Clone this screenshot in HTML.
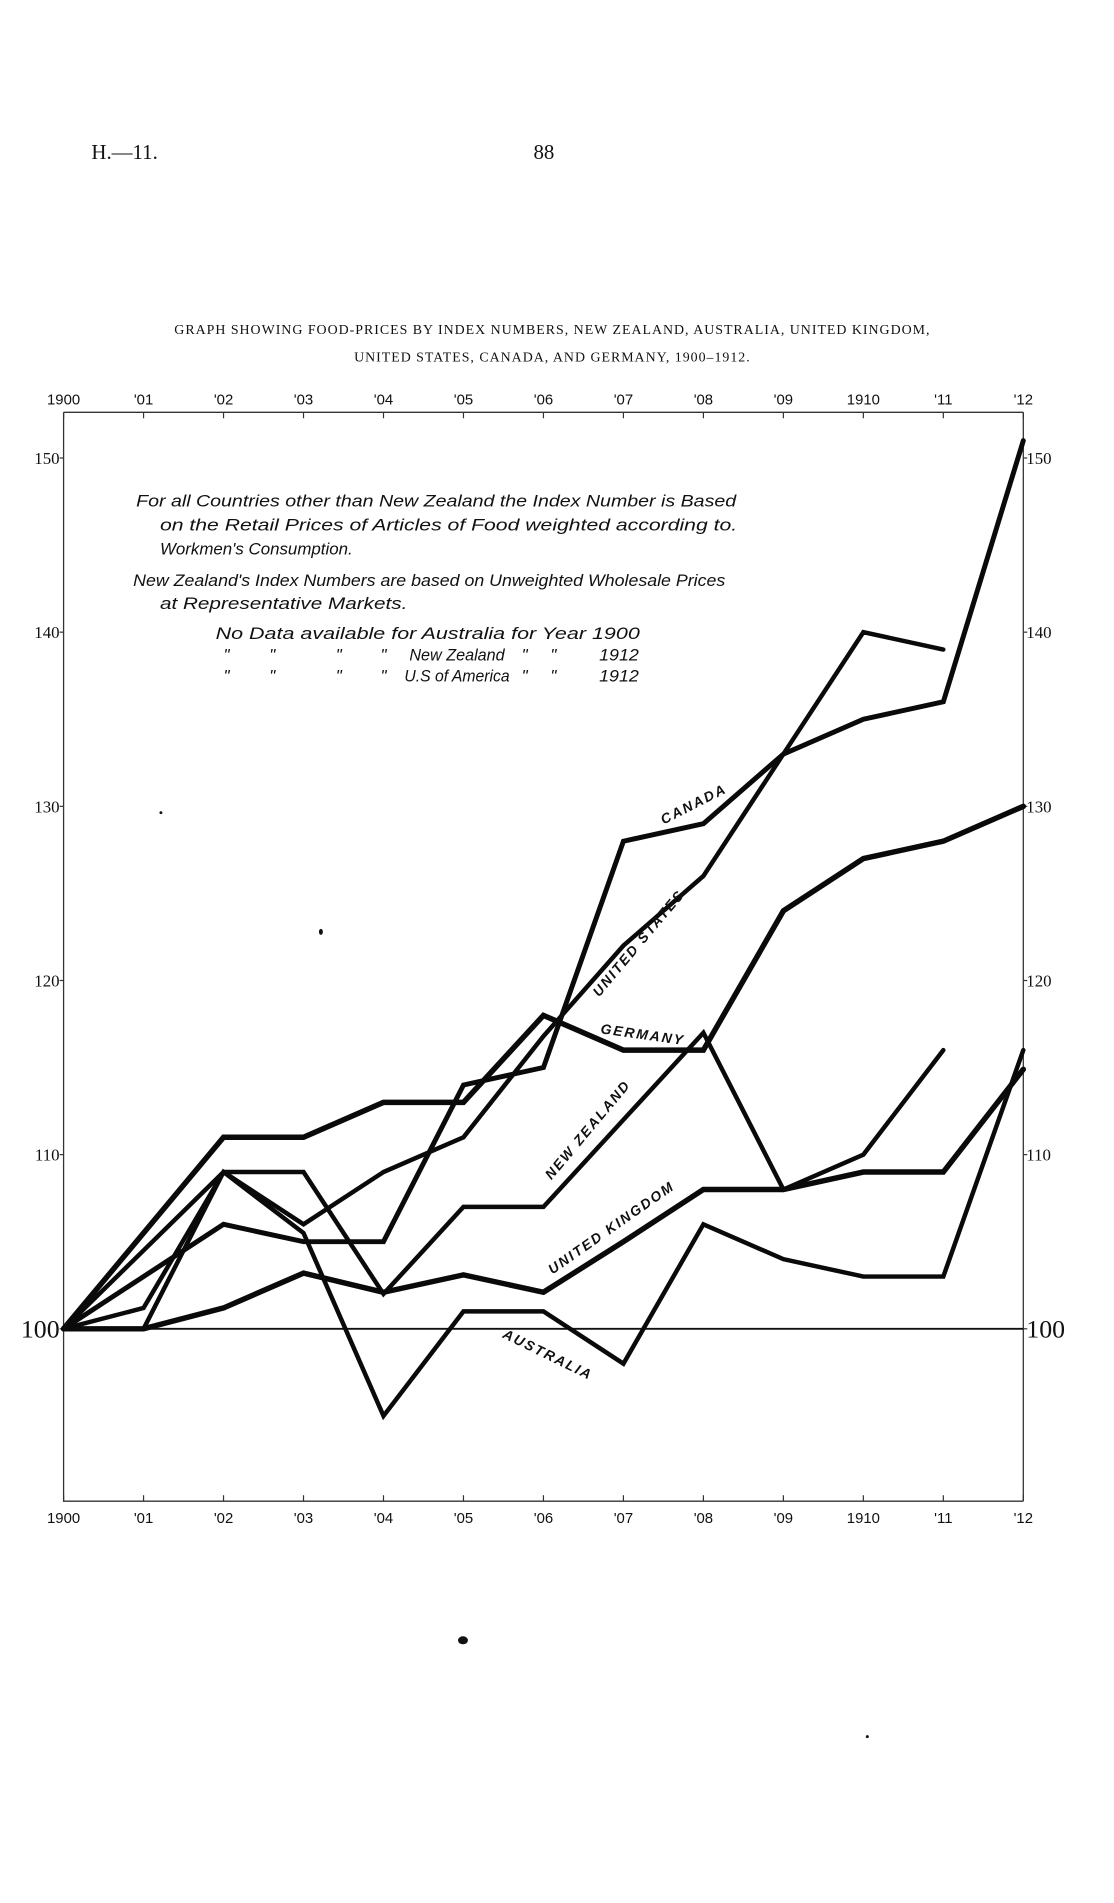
<!DOCTYPE html>
<html><head><meta charset="utf-8">
<style>
html,body{margin:0;padding:0;background:#fff;}
svg{display:block;}
.serif{font-family:"Liberation Serif",serif;fill:#111;}
.ax{font-family:"Liberation Sans",sans-serif;fill:#111;font-size:15px;}
.note{font-family:"Liberation Sans",sans-serif;font-style:italic;fill:#111;font-size:17px;}
.lab{font-family:"Liberation Sans",sans-serif;font-style:italic;font-weight:bold;fill:#111;font-size:14px;letter-spacing:2px;}
</style></head>
<body>
<svg id="chart" width="1114" height="1903" viewBox="0 0 1114 1903" xmlns="http://www.w3.org/2000/svg">
<g transform="scale(0.9935)">
<text class="serif" x="92" y="160" font-size="21">H.—11.</text>
<text class="serif" x="537" y="160" font-size="21">88</text>
<text class="serif" x="556" y="336" font-size="14" text-anchor="middle" letter-spacing="1">GRAPH SHOWING FOOD-PRICES BY INDEX NUMBERS, NEW ZEALAND, AUSTRALIA, UNITED KINGDOM,</text>
<text class="serif" x="556" y="364" font-size="14" text-anchor="middle" letter-spacing="1">UNITED STATES, CANADA, AND GERMANY, 1900–1912.</text>

<g>
<text class="note" x="137" y="510" textLength="604" lengthAdjust="spacingAndGlyphs">For all Countries other than New Zealand the Index Number is Based</text>
<text class="note" x="161" y="534" textLength="581" lengthAdjust="spacingAndGlyphs">on the Retail Prices of Articles of Food weighted according to.</text>
<text class="note" x="161" y="558" textLength="194" lengthAdjust="spacingAndGlyphs">Workmen's Consumption.</text>
<text class="note" x="134" y="590" textLength="596" lengthAdjust="spacingAndGlyphs">New Zealand's Index Numbers are based on Unweighted Wholesale Prices</text>
<text class="note" x="161" y="613" textLength="249" lengthAdjust="spacingAndGlyphs">at Representative Markets.</text>
<text class="note" x="217" y="643" textLength="427" lengthAdjust="spacingAndGlyphs">No Data available for Australia for Year 1900</text>
<text class="note" x="225" y="665" font-size="13">"</text><text class="note" x="271" y="665" font-size="13">"</text><text class="note" x="338" y="665" font-size="13">"</text><text class="note" x="383" y="665" font-size="13">"</text>
<text class="note" x="412" y="665" textLength="96" lengthAdjust="spacingAndGlyphs">New Zealand</text>
<text class="note" x="525" y="665" font-size="13">"</text><text class="note" x="554" y="665" font-size="13">"</text>
<text class="note" x="603" y="665" textLength="40" lengthAdjust="spacingAndGlyphs">1912</text>
<text class="note" x="225" y="686" font-size="13">"</text><text class="note" x="271" y="686" font-size="13">"</text><text class="note" x="338" y="686" font-size="13">"</text><text class="note" x="383" y="686" font-size="13">"</text>
<text class="note" x="407" y="686" textLength="106" lengthAdjust="spacingAndGlyphs">U.S of America</text>
<text class="note" x="525" y="686" font-size="13">"</text><text class="note" x="554" y="686" font-size="13">"</text>
<text class="note" x="603" y="686" textLength="40" lengthAdjust="spacingAndGlyphs">1912</text>
</g>
<g id="axes"></g>
<g id="series"></g>
<g>
<text class="lab" transform="translate(668,830) rotate(-27)">CANADA</text>
<text class="lab" transform="translate(603,1004) rotate(-50)">UNITED STATES</text>
<text class="lab" transform="translate(604,1040) rotate(8)">GERMANY</text>
<text class="lab" transform="translate(555,1188) rotate(-50)">NEW ZEALAND</text>
<text class="lab" transform="translate(556,1283) rotate(-35)">UNITED KINGDOM</text>
<text class="lab" transform="translate(505,1346) rotate(26)">AUSTRALIA</text>
</g>
<ellipse cx="466" cy="1651" rx="5" ry="4" fill="#111"/>
<ellipse cx="323" cy="938" rx="2" ry="3" fill="#111"/>
<circle cx="162" cy="818" r="1.5" fill="#111"/>
<circle cx="873" cy="1748" r="1.5" fill="#111"/>
</g>
</svg>
<script>
const years = [1900,1901,1902,1903,1904,1905,1906,1907,1908,1909,1910,1911,1912];
const topLabels = ["1900","'01","'02","'03","'04","'05","'06","'07","'08","'09","1910","'11","'12"];
const yTicks = [100,110,120,130,140,150];
const canada = [100,103,106,105,105,114,115,128,129,133,135,136,151];
const unitedStates = [100,104.5,109,106,109,111,116.8,122,126,133,140,139,null];
const germany = [100,105.5,111,111,113,113,118,116,116,124,127,128,130];
const newZealand = [100,101.2,109,109,102,107,107,112,117,108,110,116,null];
const unitedKingdom = [100,100,101.2,103.2,102.1,103.1,102.1,105,108,108,109,109,114.9];
const australia = [null,100,109,105.5,95,101,101,98,106,104,103,103,116];

const X0=64, X1=1030, Y100=1337.5, PXU=17.53;
const xs = i => X0 + (X1-X0)*i/(years.length-1);
const ys = v => Y100 - (v-100)*PXU;
const NS="http://www.w3.org/2000/svg";
const ax=document.getElementById('axes'), sg=document.getElementById('series');
function mk(tag,attrs,parent){const e=document.createElementNS(NS,tag);for(const k in attrs)e.setAttribute(k,attrs[k]);parent.appendChild(e);return e;}

let f=mk('path',{d:`M${X0},415 L${X1},415 M${X0},415 L${X0},1511 L${X1},1511 M${X1},415 L${X1},1511`,stroke:'#333','stroke-width':1.3,fill:'none'},ax);


let b=mk('line',{x1:X0,x2:X1,y1:ys(100),y2:ys(100),stroke:'#111','stroke-width':2},ax);



years.forEach((y,i)=>{
  const x=xs(i);
  mk('line',{x1:x,x2:x,y1:415,y2:421,stroke:'#333','stroke-width':1.2},ax);
  mk('line',{x1:x,x2:x,y1:1505,y2:1511,stroke:'#333','stroke-width':1.2},ax);
  const t=mk('text',{x:x,y:407,'text-anchor':'middle',class:'ax'},ax);
  t.textContent=topLabels[i];
  
  
  const t2=mk('text',{x:x,y:1533,'text-anchor':'middle',class:'ax'},ax);
  t2.textContent=topLabels[i];
  
  
});
yTicks.forEach(v=>{
  const y=ys(v), big=v===100;
  mk('line',{x1:X0-4,x2:X0,y1:y,y2:y,stroke:'#333','stroke-width':1.2},ax);
  mk('line',{x1:X1,x2:X1+4,y1:y,y2:y,stroke:'#333','stroke-width':1.2},ax);
  const t=mk('text',{x:X0-4,y:y+(big?9:6),'text-anchor':'end',class:'serif','font-size':big?26:17},ax);
  t.textContent=String(v);
  
  
  const t2=mk('text',{x:X1+3,y:y+(big?9:6),class:'serif','font-size':big?26:17},ax);
  t2.textContent=String(v);
  
  
});

const seriesList=[["canada",canada,5],["united-states",unitedStates,4.5],["germany",germany,5.5],["new-zealand",newZealand,4.5],["united-kingdom",unitedKingdom,5.5],["australia",australia,4.5]];
seriesList.forEach(([name,vals,w])=>{
  let d='';
  vals.forEach((v,i)=>{ if(v===null) return; d+=(d?'L':'M')+xs(i).toFixed(1)+','+ys(v).toFixed(1); });
  const p=mk('path',{d:d,fill:'none',stroke:'#0a0a0a','stroke-width':w,'stroke-linejoin':'miter','stroke-linecap':'round'},sg);
  
  
});
</script>
</body></html>
